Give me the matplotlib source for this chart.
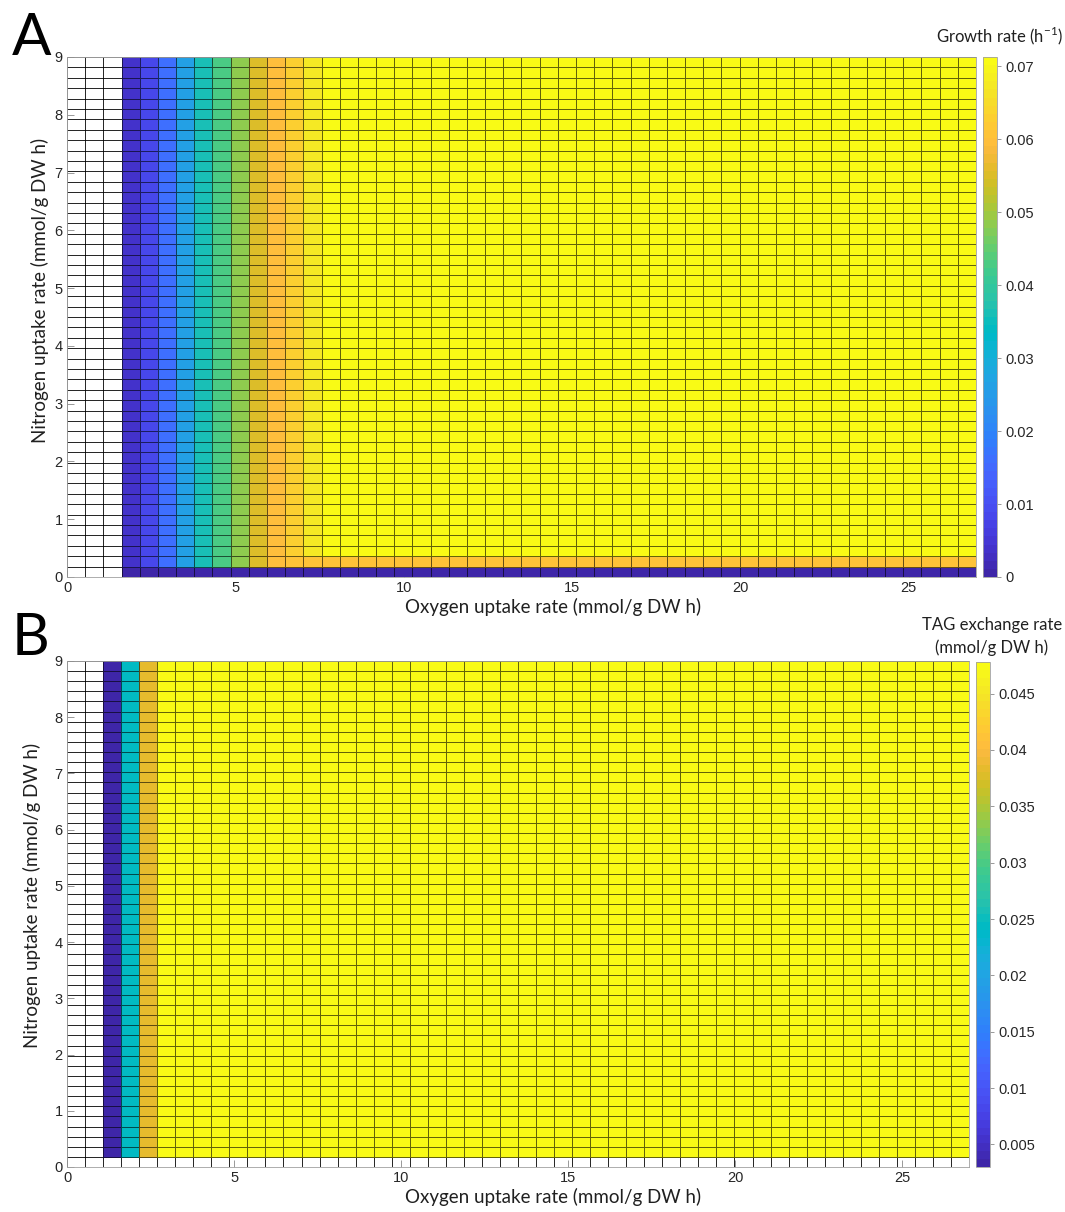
import numpy as np
import matplotlib
matplotlib.use("Agg")
import matplotlib.pyplot as plt
from matplotlib.colors import ListedColormap

# MATLAB parula (64 entries)
PARULA = [
    [0.2422, 0.1504, 0.6603], [0.2504, 0.1650, 0.7076], [0.2578, 0.1818, 0.7511], [0.2647, 0.1978, 0.7952],
    [0.2706, 0.2147, 0.8364], [0.2751, 0.2342, 0.8710], [0.2783, 0.2559, 0.8991], [0.2803, 0.2782, 0.9221],
    [0.2813, 0.3006, 0.9414], [0.2810, 0.3228, 0.9579], [0.2795, 0.3447, 0.9717], [0.2760, 0.3667, 0.9829],
    [0.2699, 0.3892, 0.9906], [0.2602, 0.4123, 0.9952], [0.2440, 0.4358, 0.9988], [0.2206, 0.4603, 0.9973],
    [0.1963, 0.4847, 0.9892], [0.1834, 0.5074, 0.9798], [0.1786, 0.5289, 0.9682], [0.1764, 0.5499, 0.9520],
    [0.1687, 0.5703, 0.9359], [0.1540, 0.5902, 0.9218], [0.1460, 0.6091, 0.9079], [0.1380, 0.6276, 0.8973],
    [0.1248, 0.6459, 0.8883], [0.1113, 0.6635, 0.8763], [0.0952, 0.6798, 0.8598], [0.0689, 0.6948, 0.8394],
    [0.0297, 0.7082, 0.8163], [0.0036, 0.7203, 0.7917], [0.0067, 0.7312, 0.7660], [0.0433, 0.7411, 0.7394],
    [0.0964, 0.7500, 0.7120], [0.1408, 0.7584, 0.6842], [0.1717, 0.7670, 0.6554], [0.1938, 0.7758, 0.6251],
    [0.2161, 0.7843, 0.5923], [0.2470, 0.7918, 0.5567], [0.2906, 0.7973, 0.5188], [0.3406, 0.8008, 0.4789],
    [0.3909, 0.8029, 0.4354], [0.4456, 0.8024, 0.3909], [0.5044, 0.7993, 0.3480], [0.5616, 0.7942, 0.3045],
    [0.6174, 0.7876, 0.2612], [0.6720, 0.7793, 0.2227], [0.7242, 0.7698, 0.1910], [0.7738, 0.7598, 0.1646],
    [0.8203, 0.7498, 0.1535], [0.8634, 0.7406, 0.1596], [0.9035, 0.7330, 0.1774], [0.9393, 0.7288, 0.2100],
    [0.9728, 0.7298, 0.2394], [0.9956, 0.7434, 0.2371], [0.9970, 0.7659, 0.2199], [0.9952, 0.7893, 0.2028],
    [0.9892, 0.8136, 0.1885], [0.9786, 0.8386, 0.1766], [0.9676, 0.8639, 0.1643], [0.9610, 0.8890, 0.1537],
    [0.9597, 0.9135, 0.1423], [0.9628, 0.9373, 0.1265], [0.9691, 0.9606, 0.1064], [0.9769, 0.9839, 0.0805],
]
cmap = ListedColormap(PARULA, name="parula")
cmap.set_bad((1, 1, 1, 0))

# sampling grid: 50 x 50 cells, O2 0..27, N 0..9
oxygen_edges = np.linspace(0, 27, 51)
nitrogen_edges = np.linspace(0, 9, 51)

nan = np.nan
# panel A: growth rate per oxygen column (h^-1)
growth_by_oxygen = [nan, nan, nan, 0.0036, 0.0086, 0.0157, 0.0257, 0.0357, 0.0428, 0.0485,
                    0.0549, 0.0592, 0.0627, 0.0677] + [0.0713] * 36
growth_n_row0 = 0.0          # N uptake lowest row
growth_n_row1_cap = 0.0610   # second row limited by nitrogen
growth_clim = (0.0, 0.0713)

# panel B: TAG exchange rate per oxygen column (mmol/g DW h)
tag_by_oxygen = [nan, nan, 0.0030, 0.0241, 0.0384] + [0.0478] * 45
tag_clim = (0.0030, 0.0478)

growth = np.tile(np.array(growth_by_oxygen, dtype=float), (50, 1))
growth[0, 3:] = growth_n_row0
growth[1] = np.where(np.isnan(growth[1]), nan, np.minimum(growth[1], growth_n_row1_cap))
growth = np.ma.masked_invalid(growth)

tag = np.tile(np.array(tag_by_oxygen, dtype=float), (50, 1))
tag[0, :] = nan
tag = np.ma.masked_invalid(tag)

TICK_FONT = ["Liberation Sans", "DejaVu Sans"]
LABEL_FONT = ["Lato", "DejaVu Sans"]
W, H = 1065, 1212

fig = plt.figure(figsize=(W / 100, H / 100), dpi=100)


def frac(x0, y0, x1, y1):
    return [x0 / W, 1 - y1 / H, (x1 - x0) / W, (y1 - y0) / H]


def panel(ax_box, cb_box, z, clim, cb_ticks, cb_title, cb_title_xy, letter, letter_y,
          xlabel_y, ylabel_xy):
    ax = fig.add_axes(frac(*ax_box))
    ax.set_axisbelow(True)
    ax.pcolormesh(oxygen_edges, nitrogen_edges, z, cmap=cmap, vmin=clim[0], vmax=clim[1],
                  edgecolors=(0, 0, 0, 0.6), linewidth=0.6)
    ax.set_xlim(0, 27)
    ax.set_ylim(0, 9)
    ax.set_xticks([0, 5, 10, 15, 20, 25])
    ax.set_yticks(range(10))
    ax.tick_params(direction="in", length=5, width=0.6, color="#888888", labelsize=10.5,
                   labelcolor="#262626", pad=3)
    for lab in ax.get_xticklabels() + ax.get_yticklabels():
        lab.set_family(TICK_FONT)
    for s in ax.spines.values():
        s.set_color("#a0a0a0")
        s.set_linewidth(0.6)
    fig.text(553 / W, 1 - xlabel_y / H, "Oxygen uptake rate (mmol/g DW h)", ha="center", va="center",
             fontsize=13.5, family=LABEL_FONT, color="#202020")
    fig.text(ylabel_xy[0] / W, 1 - ylabel_xy[1] / H, "Nitrogen uptake rate (mmol/g DW h)",
             ha="center", va="center", rotation=90, fontsize=13.5, family=LABEL_FONT, color="#202020")
    fig.text(12 / W, 1 - letter_y / H, letter, ha="left", va="top", fontsize=42,
             family=LABEL_FONT, color="black")

    cax = fig.add_axes(frac(*cb_box))
    sm = plt.cm.ScalarMappable(cmap=cmap, norm=plt.Normalize(*clim))
    cb = fig.colorbar(sm, cax=cax, ticks=cb_ticks)
    cb.ax.set_yticklabels([f"{t:g}" for t in cb_ticks])
    cb.outline.set_edgecolor("#a0a0a0")
    cb.outline.set_linewidth(0.6)
    cax.tick_params(direction="out", length=3, width=0.6, color="#888888", labelsize=10.5,
                    labelcolor="#262626", pad=3)
    for lab in cax.get_yticklabels():
        lab.set_family(TICK_FONT)
    fig.text(cb_title_xy[0] / W, 1 - cb_title_xy[1] / H, cb_title, ha="center", va="bottom",
             fontsize=12, family=LABEL_FONT, color="#202020", linespacing=1.5)
    return ax


panel((67, 57, 976, 577), (983, 57, 997, 577), growth, growth_clim,
      [0, 0.01, 0.02, 0.03, 0.04, 0.05, 0.06, 0.07],
      "Growth rate (h$^{\\mathregular{-1}}$)", (999, 47), "A", 12, 607, (40, 290))
panel((67, 661, 969, 1167), (976, 662, 990, 1167), tag, tag_clim,
      [0.005, 0.01, 0.015, 0.02, 0.025, 0.03, 0.035, 0.04, 0.045],
      "TAG exchange rate\n(mmol/g DW h)", (992, 656), "B", 612, 1197, (32, 895))

fig.savefig("out.png", dpi=100)
